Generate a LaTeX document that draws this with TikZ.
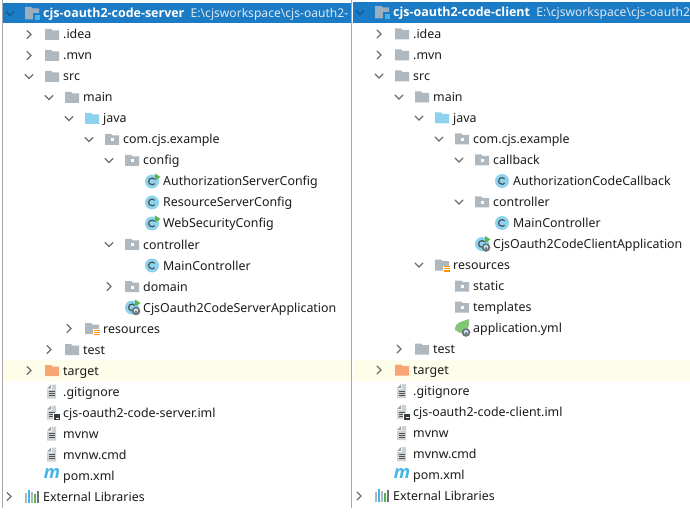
\documentclass[tikz,border=0pt]{standalone}
\usepackage{fontspec}
\setmainfont{Noto Sans}
\newfontfamily\hdfont{Open Sans}
\definecolor{hdr}{HTML}{1B7BC4}
\definecolor{hdrsub}{HTML}{DCEAF5}
\definecolor{hdrchev}{HTML}{125A93}
\definecolor{txt}{HTML}{1C1C1C}
\definecolor{fold}{HTML}{AFB8BF}
\definecolor{blu}{HTML}{8DD3EE}
\definecolor{chev}{HTML}{6E6E6E}
\definecolor{orng}{HTML}{F7A673}
\definecolor{hil}{HTML}{FEFDE9}
\definecolor{edge}{HTML}{A8A8A8}
\definecolor{runn}{HTML}{59B548}
\definecolor{gearc}{HTML}{6E7378}
\definecolor{mblue}{HTML}{45B4EA}
\definecolor{filec}{HTML}{9AA3A9}
\tikzset{
  lbl/.style={anchor=west,inner sep=0pt,text height=9pt,text depth=0pt,text=txt,font=\fontsize{12.4}{14}\selectfont},
  headmain/.style={anchor=west,inner sep=0pt,text height=9pt,text depth=0pt,text=white,font=\hdfont\fontsize{12.45}{14}\selectfont\bfseries},
  headsub/.style={anchor=west,inner sep=0pt,text height=9pt,text depth=0pt,text=hdrsub,font=\fontsize{12.1}{14}\selectfont},
  chevline/.style={draw=chev,line width=1.3pt,line cap=round,line join=miter},
  mglyph/.style={inner sep=0pt,text=mblue,font=\hdfont\fontsize{18}{18}\selectfont\bfseries\itshape}
}
\newcommand{\chopen}[2]{\draw[chevline] (#1-4,#2-2) -- (#1,#2+2) -- (#1+4,#2-2);}
\newcommand{\chshut}[2]{\draw[chevline] (#1-2,#2-4) -- (#1+2,#2) -- (#1-2,#2+4);}
\newcommand{\fldr}[3]{\fill[#3] (#1,#2-5.5) -- (#1+6,#2-5.5) -- (#1+7.5,#2-4) -- (#1+14,#2-4) -- (#1+14,#2+5.5) -- (#1,#2+5.5) -- cycle;}
\newcommand{\pkgf}[2]{\fldr{#1}{#2}{fold}\fill[white] (#1+5.5,#2-1) rectangle (#1+8.5,#2+2);}
\newcommand{\clsi}[2]{\fill[blu] (#1+7,#2) circle (7);\draw[gearc!70!black,line width=1.2pt] (#1+9.6,#2-2.2) arc (-40:-320:3.4);}
\newcommand{\runm}[2]{\fill[runn] (#1+10,#2-8) -- (#1+15.5,#2-4.5) -- (#1+10,#2-1) -- cycle;}
\newcommand{\gearm}[2]{\fill[gearc] (#1+11,#2+3.5) circle (4.3);\fill[blu!40!white] (#1+11,#2+3.2) circle (2.2);\fill[gearc] (#1+11,#2+4.2) circle (1.4);}
\newcommand{\pagei}[2]{\fill[filec] (#1+5,#2-7) -- (#1+5,#2-3) -- (#1+1,#2-3) -- cycle;
  \fill[filec!50!white] (#1+6,#2-7) -- (#1+10,#2-7) -- (#1+10,#2+7) -- (#1+1,#2+7) -- (#1+1,#2-2) -- (#1+6,#2-2) -- cycle;
  \foreach \k in {1,3,5}{\fill[gearc!70!black] (#1+2.5,#2-0.5+\k-1) rectangle (#1+8.5,#2+\k-0.5);}}
\newcommand{\libi}[2]{\fill[fold] (#1,#2-4) rectangle (#1+2,#2+6);
  \fill[mblue] (#1+3,#2-7) rectangle (#1+5,#2+6);\fill[fold] (#1+6,#2-5) rectangle (#1+8,#2+6);
  \fill[runn] (#1+9,#2-3) rectangle (#1+11,#2+6);\fill[gearc] (#1+12,#2-6) rectangle (#1+14,#2+6);}
\newcommand{\resi}[2]{\fldr{#1}{#2}{fold}\fill[white] (#1+8,#2+0.5) rectangle (#1+15.5,#2+8);
  \foreach \k in {1,3.2,5.4}{\fill[orange!85!yellow] (#1+9,#2+\k) rectangle (#1+15,#2+\k+1.2);}}
\newcommand{\head}[5]{% x offset, header y, main name, sub text, node id
  \fill[fold!85!hdr] (#1+25,#2-6.5) -- (#1+31,#2-6.5) -- (#1+33,#2-5) -- (#1+39,#2-5) -- (#1+39,#2+6) -- (#1+25,#2+6) -- cycle;
  \fill[hdr] (#1+33,#2+0) rectangle (#1+41,#2+8);
  \fill[mblue] (#1+34.5,#2+1.5) rectangle (#1+40,#2+7);
  \draw[chevline,draw=hdrchev] (#1+6,#2-2) -- (#1+10,#2+2) -- (#1+14,#2-2);
  \node[headmain] (#5m) at (#1+43,#2) {#3};
  \node[headsub] (#5s) at (#5m.east) [xshift=6pt] {#4};}
\begin{document}
\begin{tikzpicture}[x=1pt,y=-1pt]
\useasboundingbox (0,0) rectangle (690,521);
\fill[white] (0,0) rectangle (690,521);
% target row highlight
\fill[hil] (3,360) rectangle (351,381);
\fill[hil] (353,360) rectangle (690,381);
% headers
\fill[hdr] (3,3) rectangle (351,23.5);
\head{0}{13.5}{cjs-oauth2-code-server}{E:\textbackslash cjsworkspace\textbackslash cjs-oauth2-}{hl}
\fill[hdr] (353,2) rectangle (690,23);
\head{350}{12.5}{cjs-oauth2-code-client}{E:\textbackslash cjsworkspace\textbackslash cjs-oauth2}{hr}
% borders
\draw[edge,line width=1pt] (2.5,0) -- (2.5,507.5);
\draw[edge,line width=1.2pt] (351.6,0) -- (351.6,507.5);

% ---- left tree
\chshut{29}{34.5}\fldr{45}{34.5}{fold}\node[lbl] (a1) at (63,34.5) {.idea};
\chshut{29}{55.5}\fldr{45}{55.5}{fold}\node[lbl] (a2) at (63,55.5) {.mvn};
\chopen{29}{76.5}\fldr{45}{76.5}{fold}\node[lbl] (a3) at (63,76.5) {src};
\chopen{49}{97.5}\fldr{65}{97.5}{fold}\node[lbl] (a4) at (83,97.5) {main};
\chopen{69}{118.5}\fldr{85}{118.5}{blu}\node[lbl] (a5) at (103,118.5) {java};
\chopen{89}{139.5}\pkgf{105}{139.5}\node[lbl] (a6) at (123,139.5) {com.cjs.example};
\chopen{109}{160.5}\pkgf{125}{160.5}\node[lbl] (a7) at (143,160.5) {config};
\clsi{145}{181.5}\runm{145}{181.5}\node[lbl] (a8) at (163,181.5) {AuthorizationServerConfig};
\clsi{145}{202.5}\node[lbl] (a9) at (163,202.5) {ResourceServerConfig};
\clsi{145}{223.5}\runm{145}{223.5}\node[lbl] (a10) at (163,223.5) {WebSecurityConfig};
\chopen{109}{244.5}\pkgf{125}{244.5}\node[lbl] (a11) at (143,244.5) {controller};
\clsi{145}{265.5}\node[lbl] (a12) at (163,265.5) {MainController};
\chshut{109}{286.5}\pkgf{125}{286.5}\node[lbl] (a13) at (143,286.5) {domain};
\clsi{125}{307.5}\runm{125}{307.5}\gearm{125}{307.5}\node[lbl] (a14) at (143,307.5) {CjsOauth2CodeServerApplication};
\chshut{69}{328.5}\resi{85}{328.5}\node[lbl] (a15) at (103,328.5) {resources};
\chshut{49}{349.5}\fldr{65}{349.5}{fold}\node[lbl] (a16) at (83,349.5) {test};
\chshut{29}{370.5}\fldr{45}{370.5}{orng}\node[lbl] (a17) at (63,370.5) {target};
\pagei{46}{391.5}\node[lbl] (a18) at (63,391.5) {.gitignore};
\pagei{46}{412.5}\fill[white] (53,413) rectangle (60,420);\fill[gearc!50!black] (54,414) rectangle (60,420);\fill[white] (55.5,417.5) rectangle (58.5,418.5);
\node[lbl] (a19) at (63,412.5) {cjs-oauth2-code-server.iml};
\pagei{46}{433.5}\node[lbl] (a20) at (63,433.5) {mvnw};
\pagei{46}{454.5}\node[lbl] (a21) at (63,454.5) {mvnw.cmd};
\node[mglyph] (am) at (52,473.5) {m};\node[lbl] (a22) at (63,475.5) {pom.xml};
\chshut{9}{496.5}\libi{25}{496.5}\node[lbl] (a23) at (43,496.5) {External Libraries};

% ---- right tree
\chshut{379}{34}\fldr{395}{34}{fold}\node[lbl] (b1) at (413,34) {.idea};
\chshut{379}{55}\fldr{395}{55}{fold}\node[lbl] (b2) at (413,55) {.mvn};
\chopen{379}{76}\fldr{395}{76}{fold}\node[lbl] (b3) at (413,76) {src};
\chopen{399}{97}\fldr{415}{97}{fold}\node[lbl] (b4) at (433,97) {main};
\chopen{419}{118}\fldr{435}{118}{blu}\node[lbl] (b5) at (453,118) {java};
\chopen{439}{139}\pkgf{455}{139}\node[lbl] (b6) at (473,139) {com.cjs.example};
\chopen{459}{160}\pkgf{475}{160}\node[lbl] (b7) at (493,160) {callback};
\clsi{495}{181}\node[lbl] (b8) at (513,181) {AuthorizationCodeCallback};
\chopen{459}{202}\pkgf{475}{202}\node[lbl] (b9) at (493,202) {controller};
\clsi{495}{223}\node[lbl] (b10) at (513,223) {MainController};
\clsi{475}{244}\runm{475}{244}\gearm{475}{244}\node[lbl] (b11) at (493,244) {CjsOauth2CodeClientApplication};
\chopen{419}{265}\resi{435}{265}\node[lbl] (b12) at (453,265) {resources};
\pkgf{455}{286}\node[lbl] (b13) at (473,286) {static};
\pkgf{455}{307}\node[lbl] (b14) at (473,307) {templates};
\fill[runn!75!white] (455,330) .. controls (455,322) and (461,322) .. (469,319) .. controls (470,326) and (468,332) .. (460,333) -- cycle;
\gearm{455}{329}\node[lbl] (b15) at (473,328) {application.yml};
\chshut{399}{349}\fldr{415}{349}{fold}\node[lbl] (b16) at (433,349) {test};
\chshut{379}{370}\fldr{395}{370}{orng}\node[lbl] (b17) at (413,370) {target};
\pagei{396}{391}\node[lbl] (b18) at (413,391) {.gitignore};
\pagei{396}{412}\fill[white] (403,412.5) rectangle (410,419.5);\fill[gearc!50!black] (404,413.5) rectangle (410,419.5);\fill[white] (405.5,417) rectangle (408.5,418);
\node[lbl] (b19) at (413,412) {cjs-oauth2-code-client.iml};
\pagei{396}{433}\node[lbl] (b20) at (413,433) {mvnw};
\pagei{396}{454}\node[lbl] (b21) at (413,454) {mvnw.cmd};
\node[mglyph] (bm) at (402,473) {m};\node[lbl] (b22) at (413,475) {pom.xml};
\chshut{359}{496}\libi{375}{496}\node[lbl] (b23) at (393,496) {External Libraries};
\end{tikzpicture}
\end{document}
